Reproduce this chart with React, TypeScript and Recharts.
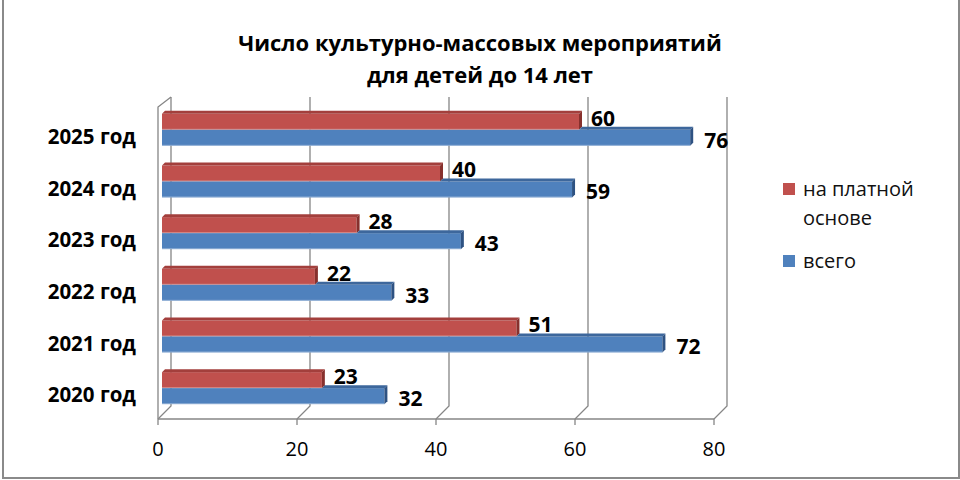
import React from "react";
import { BarChart, Bar, XAxis, YAxis, CartesianGrid, LabelList } from "recharts";

const CATEGORIES = ["2025 год", "2024 год", "2023 год", "2022 год", "2021 год", "2020 год"];
const PAID = [60, 40, 28, 22, 51, 23];
const TOTAL = [76, 59, 43, 33, 72, 32];
const X_TICKS = [0, 20, 40, 60, 80];

const SERIES = [
  { key: "paid", name: "на платной основе", front: "#c0504d", top: "#a33f3c", side: "#87302d" },
  { key: "total", name: "всего", front: "#4f81bd", top: "#3d679c", side: "#2e5282" },
];

const TITLE = ["Число культурно-массовых мероприятий", "для детей до 14 лет"];

const data = CATEGORIES.map((c, i) => ({ cat: c, paid: PAID[i], total: TOTAL[i] }));

const FONT = "'Open Sans', sans-serif";
const GRID = "#868686";
const D = 3; // depth of bar top/side faces

function Bar3D(props: any) {
  const { x, y, width, height, seriesKey, payload } = props;
  const s = SERIES.find((q) => q.key === seriesKey)!;
  if (!width || width <= 0) return null;
  // top face of the lower bar is only visible past the end of the bar above it
  let topStart = x;
  if (seriesKey === "total" && payload) {
    topStart = x + (width * payload.paid) / payload.total;
  }
  return (
    <g>
      <rect x={x} y={y} width={width} height={height} fill={s.front} />
      {topStart < x + width && (
        <polygon
          points={`${topStart},${y} ${topStart + D},${y - D} ${x + width + D},${y - D} ${x + width},${y}`}
          fill={s.top}
        />
      )}
      <polygon
        points={`${x + width},${y} ${x + width + D},${y - D} ${x + width + D},${y + height - D} ${x + width},${y + height}`}
        fill={s.side}
      />
      <line x1={x} y1={y + height - 0.5} x2={x + width} y2={y + height - 0.5} stroke="#ffffff" strokeOpacity={0.35} />
    </g>
  );
}

function GridLine(props: any) {
  const { x1, y1, y2, index } = props;
  const back = x1 + 9;
  const front = x1 - 4;
  return (
    <g key={`g-${index}-${x1}`}>
      <polyline
        points={`${back},${y1 - 7} ${back},${y2 - 8} ${front},${y2 + 5}`}
        fill="none"
        stroke={GRID}
        strokeWidth={1.3}
      />
      {index === 0 && (
        <polyline
          points={`${back},${y1 - 7} ${front},${y1 + 3} ${front},${y2 + 5}`}
          fill="none"
          stroke={GRID}
          strokeWidth={1.3}
        />
      )}
    </g>
  );
}

function XTick(props: any) {
  const { x, payload } = props;
  return (
    <text x={x - 4} y={456} textAnchor="middle" fontFamily={FONT} fontSize={20} fill="#000">
      {payload.value}
    </text>
  );
}

function YTick(props: any) {
  const { x, y, payload } = props;
  return (
    <text x={x - 18} y={y + 14} textAnchor="end" fontFamily={FONT} fontWeight={700} fontSize={20.5} fill="#000">
      {payload.value}
    </text>
  );
}

const valueLabel = (dx: number, dy: number) => (props: any) => {
  const { x, y, width, height, value } = props;
  return (
    <text
      x={x + width + dx}
      y={y + height / 2 + dy}
      dominantBaseline="central"
      fontFamily={FONT}
      fontWeight={700}
      fontSize={21}
      fill="#000"
    >
      {value}
    </text>
  );
};

export default function App() {
  return (
    <div style={{ position: "absolute", left: 0, top: 0, width: 960, height: 480, background: "#fff" }}>
      <div
        style={{
          position: "absolute",
          left: 2,
          top: 0,
          width: 954,
          height: 477,
          borderLeft: "2px solid #8a8a8a",
          borderRight: "2px solid #8a8a8a",
          borderBottom: "2px solid #8a8a8a",
        }}
      />
      <div
        style={{
          position: "absolute",
          left: 0,
          top: 26,
          width: 960,
          textAlign: "center",
          fontFamily: FONT,
          fontWeight: 700,
          fontSize: 22,
          lineHeight: "32px",
          color: "#000",
        }}
      >
        {TITLE.map((t) => (
          <div key={t}>{t}</div>
        ))}
      </div>
      <BarChart
        width={960}
        height={480}
        data={data}
        layout="vertical"
        margin={{ top: 104, right: 242, bottom: 36, left: 0 }}
        barCategoryGap="19%"
        barGap={0}
        style={{ position: "absolute", left: 0, top: 0 }}
      >
        <CartesianGrid horizontal={false} vertical={GridLine as any} />
        <XAxis
          type="number"
          domain={[0, 80]}
          ticks={X_TICKS}
          height={30}
          axisLine={{ stroke: GRID, strokeWidth: 1.3, transform: "translate(-4,5)" } as any}
          tickLine={{ stroke: GRID, strokeWidth: 1.3, transform: "translate(-4,5)" } as any}
          tickSize={6}
          tick={<XTick />}
        />
        <YAxis type="category" dataKey="cat" width={162} axisLine={false} tickLine={false} tick={<YTick />} />
        <Bar dataKey="paid" isAnimationActive={false} shape={(p: any) => <Bar3D {...p} seriesKey="paid" />}>
          <LabelList dataKey="paid" content={valueLabel(12, -4)} />
        </Bar>
        <Bar dataKey="total" isAnimationActive={false} shape={(p: any) => <Bar3D {...p} seriesKey="total" />}>
          <LabelList dataKey="total" content={valueLabel(14, 2)} />
        </Bar>
      </BarChart>
      <div style={{ position: "absolute", left: 783, top: 174, fontFamily: FONT, fontSize: 20, color: "#111" }}>
        {SERIES.map((s, i) => (
          <div key={s.key} style={{ position: "relative", marginBottom: i === 0 ? 14 : 0 }}>
            <div
              style={{ position: "absolute", left: 0, top: 9, width: 12, height: 12, background: s.front }}
            />
            <div style={{ marginLeft: 20, width: 135, lineHeight: "29px" }}>{s.name}</div>
          </div>
        ))}
      </div>
    </div>
  );
}
